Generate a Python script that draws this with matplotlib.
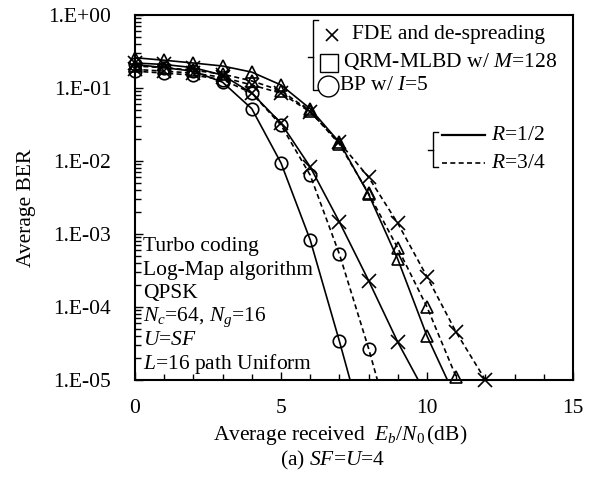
import matplotlib
matplotlib.use('Agg')
import matplotlib.pyplot as plt
from matplotlib.lines import Line2D
from matplotlib.ticker import MultipleLocator, LogLocator, FuncFormatter, NullFormatter

plt.rcParams['font.family'] = ['Liberation Serif', 'DejaVu Serif']
plt.rcParams['mathtext.fontset'] = 'custom'
plt.rcParams['mathtext.rm'] = 'Liberation Serif'
plt.rcParams['mathtext.it'] = 'Liberation Serif:italic'

# Eb/N0 (dB) and BER
fde_12_x = [0, 1, 2, 3, 4, 5, 6, 7, 8, 9, 10]
fde_12_y = [0.22, 0.21, 0.19, 0.15, 0.085, 0.033, 0.0083, 1.46e-3, 2.3e-4, 3.3e-5, 6e-6]
fde_34_x = [0, 1, 2, 3, 4, 5, 6, 7, 8, 9, 10, 11, 12]
fde_34_y = [0.18, 0.17, 0.16, 0.14, 0.11, 0.085, 0.047, 0.018, 6e-3, 1.4e-3, 2.6e-4, 4.5e-5, 1e-5]
qrm_12_x = [0, 1, 2, 3, 4, 5, 6, 7, 8, 9, 10, 11]
qrm_12_y = [0.26, 0.24, 0.22, 0.2, 0.165, 0.11, 0.052, 0.018, 3.5e-3, 4.5e-4, 4e-5, 5.5e-6]
qrm_34_x = [0, 1, 2, 3, 4, 5, 6, 7, 8, 9, 10, 11, 12]
qrm_34_y = [0.2, 0.19, 0.175, 0.155, 0.125, 0.092, 0.048, 0.017, 3.6e-3, 6.4e-4, 1e-4, 1.1e-5, 1e-6]
bp_12_x = [0, 1, 2, 3, 4, 5, 6, 7, 8]
bp_12_y = [0.21, 0.19, 0.17, 0.12, 0.052, 0.0094, 8.3e-4, 3.4e-5, 1.2e-6]
bp_34_x = [0, 1, 2, 3, 4, 5, 6, 7, 8, 9]
bp_34_y = [0.17, 0.16, 0.15, 0.13, 0.085, 0.031, 0.0064, 5.3e-4, 2.7e-5, 1e-6]

curves = [
    (fde_12_x, fde_12_y, 'x', '-'),
    (fde_34_x, fde_34_y, 'x', '--'),
    (qrm_12_x, qrm_12_y, '^', '-'),
    (qrm_34_x, qrm_34_y, '^', '--'),
    (bp_12_x, bp_12_y, 'o', '-'),
    (bp_34_x, bp_34_y, 'o', '--'),
]

W, H = 597, 486
fig = plt.figure(figsize=(W / 100, H / 100), dpi=100)
ax = fig.add_axes([135 / W, 1 - 380 / H, 438 / W, 365 / H])

ymin = 1e-5
for xs, ys, mk, ls in curves:
    style = '-' if ls == '-' else (0, (3, 2))
    ax.plot(xs, ys, color='black', lw=1.2, linestyle=style)
    mx = [a for a, b in zip(xs, ys) if b >= ymin]
    my = [b for b in ys if b >= ymin]
    ax.plot(mx, my, linestyle='none', marker=mk, ms=10 if mk == 'x' else 9,
            mfc='none', mec='black', mew=1.2, clip_on=False, zorder=5)

ax.set_yscale('log')
ax.set_xlim(0, 15)
ax.set_ylim(1e-5, 1)
ax.xaxis.set_major_locator(MultipleLocator(5))
ax.xaxis.set_minor_locator(MultipleLocator(1))
ax.yaxis.set_major_locator(LogLocator(base=10, numticks=10))
ax.yaxis.set_minor_locator(LogLocator(base=10, subs=range(2, 10), numticks=20))
ax.yaxis.set_minor_formatter(NullFormatter())
ax.yaxis.set_major_formatter(FuncFormatter(lambda v, p: '1.E%+03d' % round(__import__('math').log10(v))))
ax.tick_params(which='both', direction='in', labelsize=15.5, top=False, right=False)
ax.tick_params(which='major', length=6, width=1)
ax.tick_params(which='minor', length=4, width=1)
ax.tick_params(axis='y', pad=17)
ax.tick_params(axis='x', pad=14)
for s in ax.spines.values():
    s.set_linewidth(1.5)

fig.text(27 / W, 1 - 208 / H, 'Average BER', rotation=90, ha='center', va='center', fontsize=15.5)
fig.text(340 / W, 1 - 435 / H, 'Average received  $E_b/N_0\\,$(dB)', ha='center', va='center', fontsize=15.5)
fig.text(333 / W, 1 - 460 / H, '(a) $SF$=$U$=4', ha='center', va='center', fontsize=15.5)

notes = ['Turbo coding', 'Log-Map algorithm', 'QPSK', '$N_c$=64, $N_g$=16', '$U$=$SF$', '$L$=16 path Uniform']
for i, t in enumerate(notes):
    fig.text(143 / W, 1 - (247 + i * 23.4) / H, t, ha='left', va='center', fontsize=15.5)


def fline(xp, yp, **kw):
    fig.add_artist(Line2D([x / W for x in xp], [1 - y / H for y in yp],
                          transform=fig.transFigure, color='black', **kw))


# method legend
fline([318, 313, 313, 318], [20, 20, 90, 90], lw=1)
fline([308, 313], [57, 57], lw=1)
fline([332], [35], marker='x', ms=8, mew=1.2, linestyle='none')
fline([329], [63], marker='s', ms=13, mfc='none', mew=1, linestyle='none')
fline([328], [86], marker='o', ms=15, mfc='none', mew=1, linestyle='none')
fig.text(352 / W, 1 - 35 / H, 'FDE and de-spreading', va='center', fontsize=15.5)
fig.text(343 / W, 1 - 61 / H, 'QRM-MLBD w/ $M$=128', va='center', fontsize=15.5)
fig.text(339 / W, 1 - 86 / H, 'BP w/ $I$=5', va='center', fontsize=15.5)

# rate legend
fline([438, 433, 433, 438], [132, 132, 167, 167], lw=1)
fline([428, 433], [150, 150], lw=1)
fline([442, 485], [135, 135], lw=1.6)
fline([442, 485], [163, 163], lw=1.2, linestyle=(0, (3, 2)))
fig.text(491 / W, 1 - 135 / H, '$R$=1/2', va='center', fontsize=15.5)
fig.text(491 / W, 1 - 163 / H, '$R$=3/4', va='center', fontsize=15.5)

fig.savefig('out.png', dpi=100)
